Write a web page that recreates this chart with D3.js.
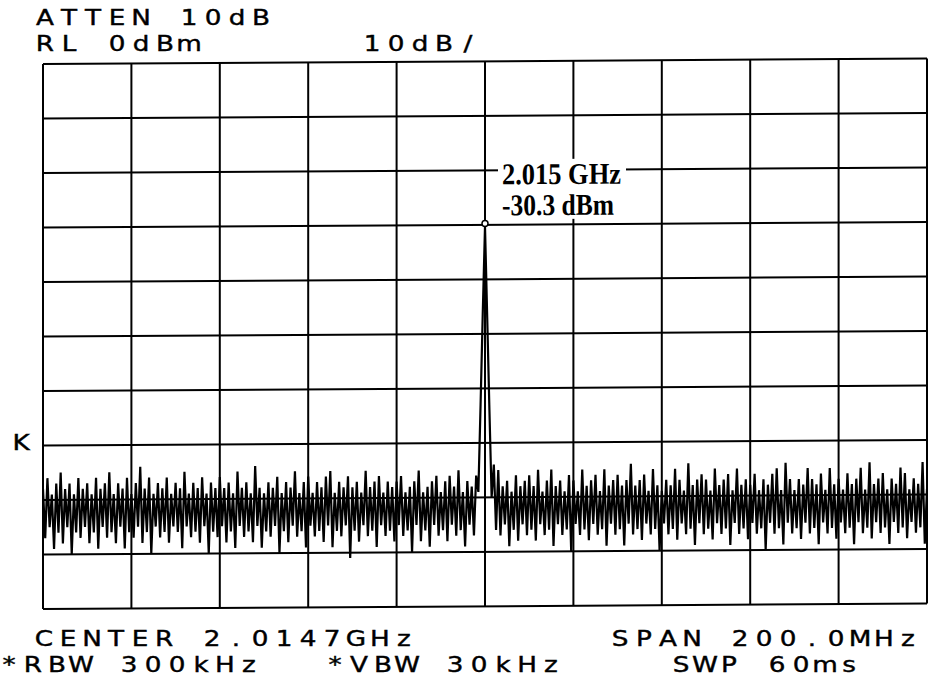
<!DOCTYPE html>
<html>
<head>
<meta charset="utf-8">
<script src="https://cdn.jsdelivr.net/npm/d3@7"></script>
<style>
  body { margin: 0; background: #fff; }
</style>
</head>
<body>
<svg id="chart"></svg>
<script>
// analyzer settings
const centerMHz = 2014.7;
const spanMHz = 200;
const refLevel = 0;
const dbPerDiv = 10;
const divisions = 10;

// header / footer annotations
const headerLeft = ["ATTEN 10dB", "RL 0dBm"];
const headerScale = "10dB/";
const footerRow1 = ["CENTER 2.0147GHz", "SPAN 200.0MHz"];
const footerRow2 = ["*RBW 300kHz", "*VBW 30kHz", "SWP 60ms"];
const refMarkLabel = "K";

// marker readout
const markerFreq = "2.015 GHz";
const markerAmp = "-30.3 dBm";

// trace, 401 points, dBm
const traceDbm = [
  -78,-87,-76,-85,-79,-89,-77,-86,-75,-88,-78,-85,-77,-90,-79,-86,-76,-87,-78,-85,
  -77,-88,-79,-86,-76,-89,-78,-85,-77,-87,-75,-86,-79,-88,-77,-85,-78,-89,-76,-86,
  -79,-87,-77,-85,-74,-88,-78,-86,-76,-90,-79,-85,-77,-87,-78,-86,-76,-88,-79,-85,
  -77,-86,-78,-89,-75,-85,-79,-87,-77,-86,-78,-88,-76,-85,-79,-90,-77,-86,-78,-87,
  -76,-85,-78,-88,-77,-86,-79,-89,-75,-85,-78,-87,-77,-86,-79,-88,-74,-85,-78,-89,
  -79,-86,-77,-87,-78,-85,-76,-90,-79,-86,-77,-88,-78,-85,-75,-87,-79,-86,-77,-89,
  -76,-85,-79,-87,-77,-86,-78,-88,-76,-85,-75,-89,-79,-86,-77,-87,-78,-85,-76,-91,
  -78,-86,-77,-88,-79,-85,-75,-87,-78,-86,-77,-89,-76,-85,-79,-87,-77,-86,-78,-88,
  -77,-85,-76,-87,-79,-86,-78,-90,-77,-85,-75,-88,-79,-86,-78,-89,-77,-85,-76,-87,
  -79,-86,-77,-88,-76,-85,-78,-87,-75,-86,-79,-89,-77,-85,-78,-87,-76,
  -79,-63,-46,-30.3,-47,-64,-80,
  -74,-86,-75,-87,-78,-85,-77,-89,-79,-86,-76,-88,-78,-85,-77,-87,
  -76,-86,-78,-88,-75,-85,-79,-87,-77,-86,-75,-89,-78,-85,-77,-87,-79,-86,-76,-90,
  -77,-85,-79,-87,-75,-86,-78,-88,-77,-85,-76,-87,-79,-86,-75,-89,-78,-85,-77,-87,
  -76,-86,-78,-89,-77,-85,-74,-87,-78,-86,-77,-88,-76,-85,-79,-87,-75,-86,-78,-90,
  -79,-85,-77,-87,-78,-86,-75,-88,-77,-85,-79,-87,-74,-86,-78,-89,-77,-85,-76,-87,
  -77,-86,-79,-88,-75,-85,-78,-87,-77,-86,-76,-89,-79,-85,-75,-87,-78,-86,-77,-88,
  -78,-85,-76,-87,-79,-86,-77,-90,-78,-85,-76,-87,-75,-86,-79,-89,-74,-85,-77,-87,
  -79,-86,-77,-88,-78,-85,-75,-87,-77,-86,-78,-89,-76,-85,-79,-87,-75,-86,-78,-88,
  -77,-85,-79,-87,-76,-86,-78,-89,-77,-85,-75,-87,-79,-86,-74,-88,-78,-85,-77,-87,
  -76,-86,-79,-89,-77,-85,-78,-87,-75,-86,-76,-88,-79,-85,-77,-87,-78,-86,-74,-89,-79
];

const width = 928;
const height = 683;
const marginLeft = 43;
const marginTop = 64;
const plotW = 884;
const plotH = 545;
const skew = -0.35;   // the plot sheet sits slightly crooked
const pitch = 24;     // plotter lettering is fixed pitch
const stretch = 1.25; // and its letters are wide

const svg = d3.select("#chart")
    .attr("width", width)
    .attr("height", height)
    .style("background", "#fff");

const freqs = traceDbm.map((_, i) => centerMHz - spanMHz / 2 + i * spanMHz / (traceDbm.length - 1));

const x = d3.scaleLinear()
    .domain([centerMHz - spanMHz / 2, centerMHz + spanMHz / 2])
    .range([0, plotW]);

const y = d3.scaleLinear()
    .domain([refLevel - dbPerDiv * divisions, refLevel])
    .range([plotH, 0]);

const plot = svg.append("g")
    .attr("transform", `translate(${marginLeft},${marginTop}) skewY(${skew})`);

plot.append("clipPath").attr("id", "clip")
  .append("rect").attr("x", 0).attr("y", 0).attr("width", plotW).attr("height", plotH);

// trace
const line = d3.line()
    .x((d, i) => x(freqs[i]))
    .y(d => y(d));

plot.append("path")
    .datum(traceDbm)
    .attr("clip-path", "url(#clip)")
    .attr("fill", "none")
    .attr("stroke", "#000")
    .attr("stroke-width", 2.2)
    .attr("stroke-linejoin", "bevel")
    .attr("d", line);

// graticule
const vTicks = d3.range(divisions + 1).map(i => x.domain()[0] + i * spanMHz / divisions);
const hTicks = d3.range(divisions + 1).map(i => refLevel - i * dbPerDiv);

plot.selectAll(".vgrid")
  .data(vTicks)
  .enter().append("line")
    .attr("x1", d => x(d)).attr("x2", d => x(d))
    .attr("y1", 0).attr("y2", plotH)
    .attr("stroke", "#000").attr("stroke-width", 2);

plot.selectAll(".hgrid")
  .data(hTicks)
  .enter().append("line")
    .attr("x1", 0).attr("x2", plotW)
    .attr("y1", d => y(d)).attr("y2", d => y(d))
    .attr("stroke", "#000").attr("stroke-width", 2);

// marker readout
const peakIdx = d3.maxIndex(traceDbm);
const px = x(freqs[peakIdx]);
const py = y(traceDbm[peakIdx]);

plot.append("rect")
    .attr("x", px + 13).attr("y", py - 67)
    .attr("width", 128).attr("height", 60)
    .attr("fill", "#fff");

const readout = plot.append("text")
    .attr("font-family", "'Liberation Serif', 'Times New Roman', serif")
    .attr("font-weight", "bold")
    .attr("font-size", 30)
    .attr("fill", "#000");
readout.append("tspan")
    .attr("x", px + 17).attr("y", py - 42)
    .attr("textLength", 119).attr("lengthAdjust", "spacingAndGlyphs")
    .text(markerFreq);
readout.append("tspan")
    .attr("x", px + 17).attr("y", py - 11)
    .attr("textLength", 112).attr("lengthAdjust", "spacingAndGlyphs")
    .text(markerAmp);

plot.append("circle")
    .attr("cx", px).attr("cy", py - 3)
    .attr("r", 3)
    .attr("fill", "#fff")
    .attr("stroke", "#000")
    .attr("stroke-width", 1.5);

// plotter lettering: one glyph per fixed cell, drawn wide
function plotterText(str, x0, base) {
  svg.append("text")
      .attr("transform", `scale(${stretch},1)`)
      .attr("x", str.split("").map((_, i) => (x0 + 9 + i * pitch) / stretch).join(" "))
      .attr("y", base)
      .attr("text-anchor", "middle")
      .attr("font-family", "'DejaVu Sans', sans-serif")
      .attr("font-size", 21)
      .attr("fill", "#000")
      .attr("stroke", "#000")
      .attr("stroke-width", 0.4)
      .text(str);
}

plotterText(headerLeft[0], 36, 25);
plotterText(headerLeft[1], 36, 51);
plotterText(headerScale, 363, 51);
plotterText(refMarkLabel, 12, 450);

plotterText(footerRow1[0], 35, 646);
plotterText(footerRow1[1], 611, 646);
plotterText(footerRow2[0], 0, 672);
plotterText(footerRow2[1], 326, 672);
plotterText(footerRow2[2], 672, 672);
</script>
</body>
</html>
